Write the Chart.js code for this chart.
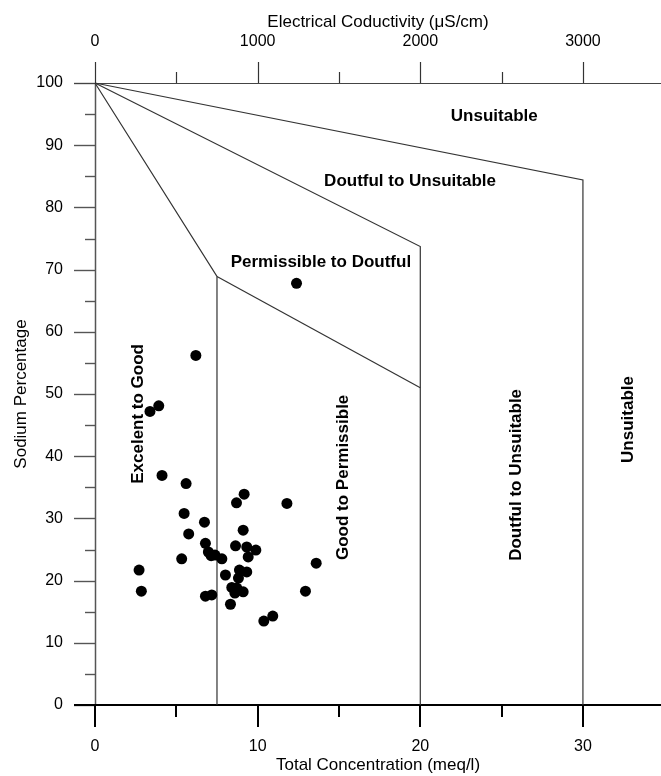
<!DOCTYPE html>
<html>
<head>
<meta charset="utf-8">
<script src="https://cdn.jsdelivr.net/npm/chart.js@4.4.1/dist/chart.umd.min.js"></script>
<style>
html,body{margin:0;padding:0;background:#fff;}
#wrap{width:661px;height:776px;}
</style>
</head>
<body>
<div id="wrap"><canvas id="c" width="661" height="776"></canvas></div>
<script>
// ---- Data ----
// Total concentration (meq/l) of each sample
const totalConc = [6.2, 3.92, 3.38, 4.12, 5.6, 9.17, 8.7, 11.8, 5.48, 6.73,
  5.76, 9.11, 6.79, 6.97, 7.38, 7.8, 7.14, 8.64, 9.33, 9.89,
  9.42, 5.33, 13.6, 2.71, 8.88, 9.33, 8.02, 8.82, 8.41, 8.72,
  2.85, 8.6, 9.11, 12.94, 6.79, 7.18, 8.33, 10.93, 10.38, 12.39];
// Sodium percentage of each sample
const sodiumPct = [56.2, 48.1, 47.2, 36.9, 35.6, 33.9, 32.5, 32.4, 30.8, 29.4,
  27.5, 28.1, 26.0, 24.6, 24.1, 23.5, 24.0, 25.6, 25.4, 24.9,
  23.8, 23.5, 22.8, 21.7, 21.7, 21.4, 20.9, 20.4, 18.9, 18.8,
  18.3, 18.0, 18.2, 18.3, 17.5, 17.7, 16.2, 14.3, 13.5, 67.8];

// Classification boundaries (Wilcox diagram), in data units
const boundExcGoodX = [0, 7.5, 7.5];
const boundExcGoodY = [100, 68.9, 0];
const boundGoodPermX = [7.5, 20];
const boundGoodPermY = [68.9, 51];
const boundPermDoubtX = [0, 20, 20];
const boundPermDoubtY = [100, 73.7, 0];
const boundDoubtUnsX = [0, 30, 30];
const boundDoubtUnsY = [100, 84.4, 0];

// Region labels
const regionNames = ['Unsuitable', 'Doutful to Unsuitable', 'Permissible to Doutful',
  'Excelent to Good', 'Good to Permissible', 'Doutful to Unsuitable', 'Unsuitable'];
const regionX = [24.55, 19.37, 13.89, 2.67, 15.24, 25.9, 32.8];
const regionY = [94.6, 84.2, 71.2, 46.8, 36.6, 37.0, 45.9];
const regionVertical = [false, false, false, true, true, true, true];

// Axis ticks (all tick marks) and the labelled (major) ones
const concTicks = [0, 5, 10, 15, 20, 25, 30];
const concLabels = [0, 10, 20, 30];
const ecTicks = [0, 500, 1000, 1500, 2000, 2500, 3000];
const ecLabels = [0, 1000, 2000, 3000];
const naTicks = [0, 5, 10, 15, 20, 25, 30, 35, 40, 45, 50, 55, 60, 65, 70, 75, 80, 85, 90, 95, 100];
const naLabels = [0, 10, 20, 30, 40, 50, 60, 70, 80, 90, 100];
const concMax = 34.8, ecPerMeq = 100;

// ---- Chart ----
const FONT = '"Liberation Sans", Arial, Helvetica, sans-serif';
const zip = (xs, ys) => xs.map((v, i) => ({x: v, y: ys[i]}));

function seg(ctx, x1, y1, x2, y2, color, w) {
  ctx.beginPath();
  ctx.strokeStyle = color;
  ctx.lineWidth = w;
  ctx.moveTo(x1, y1);
  ctx.lineTo(x2, y2);
  ctx.stroke();
}

const axisPlugin = {
  id: 'axisLines',
  beforeDatasetsDraw(chart) {
    const {ctx, chartArea: {left, top, right, bottom}, scales: {x, y, x2}} = chart;
    ctx.save();
    // y ticks
    y.ticks.forEach(t => {
      const py = Math.round(y.getPixelForValue(t.value)) + 0.5;
      const major = naLabels.includes(t.value);
      seg(ctx, left - (major ? 21 : 10), py, left, py, '#555', 1.4);
    });
    // top axis
    seg(ctx, left - 21, top + 0.5, right, top + 0.5, '#444', 1.2);
    x2.ticks.forEach(t => {
      const px = Math.round(x2.getPixelForValue(t.value)) + 0.5;
      const major = ecLabels.includes(t.value);
      seg(ctx, px, top - (major ? 21 : 11), px, top, '#333', 1.2);
    });
    // left axis
    seg(ctx, left + 0.5, top, left + 0.5, bottom, '#555', 1.5);
    // bottom axis
    seg(ctx, left - 21, bottom, right, bottom, '#000', 2);
    x.ticks.forEach(t => {
      const px = Math.round(x.getPixelForValue(t.value));
      const major = concLabels.includes(t.value);
      seg(ctx, px, bottom, px, bottom + (major ? 22 : 12), '#000', 2);
    });
    ctx.restore();
  }
};

const labelPlugin = {
  id: 'regionLabels',
  afterDatasetsDraw(chart) {
    const {ctx, scales: {x, y}} = chart;
    ctx.save();
    ctx.fillStyle = '#000';
    ctx.font = 'bold 17px ' + FONT;
    ctx.textAlign = 'center';
    ctx.textBaseline = 'middle';
    regionNames.forEach((name, i) => {
      const px = x.getPixelForValue(regionX[i]);
      const py = y.getPixelForValue(regionY[i]);
      ctx.save();
      ctx.translate(px, py);
      if (regionVertical[i]) ctx.rotate(-Math.PI / 2);
      ctx.fillText(name, 0, 0);
      ctx.restore();
    });
    ctx.restore();
  }
};

const boundaryStyle = {type: 'line', borderColor: '#333', borderWidth: 1.2, pointRadius: 0,
  pointHoverRadius: 0, fill: false, tension: 0, order: 1, clip: false, showLine: true};

function fixTicks(values) {
  return s => { s.ticks = values.map(v => ({value: v})); };
}
function fixSize(prop, size) {
  return s => {
    s[prop] = size;
    s.paddingLeft = 0; s.paddingRight = 0; s.paddingTop = 0; s.paddingBottom = 0;
  };
}
function labelIf(list) {
  return v => (list.includes(v) ? String(v) : '');
}

new Chart(document.getElementById('c'), {
  type: 'scatter',
  data: {
    datasets: [
      {label: 'Samples', data: zip(totalConc, sodiumPct), backgroundColor: '#000', borderColor: '#000',
        borderWidth: 0, pointRadius: 5.5, pointHoverRadius: 5.5, order: 0},
      Object.assign({label: 'b1', data: zip(boundExcGoodX, boundExcGoodY)}, boundaryStyle),
      Object.assign({label: 'b2', data: zip(boundGoodPermX, boundGoodPermY)}, boundaryStyle),
      Object.assign({label: 'b3', data: zip(boundPermDoubtX, boundPermDoubtY)}, boundaryStyle),
      Object.assign({label: 'b4', data: zip(boundDoubtUnsX, boundDoubtUnsY)}, boundaryStyle)
    ]
  },
  options: {
    responsive: false,
    animation: false,
    devicePixelRatio: 1,
    layout: {padding: 0, autoPadding: false},
    plugins: {legend: {display: false}, tooltip: {enabled: false}},
    scales: {
      x: {
        type: 'linear', position: 'bottom', min: 0, max: concMax,
        grid: {display: false, drawTicks: false}, border: {display: false},
        afterBuildTicks: fixTicks(concTicks),
        ticks: {autoSkip: false, maxRotation: 0, padding: 32,
          color: '#000', font: {family: FONT, size: 16}, callback: labelIf(concLabels)},
        title: {display: true, text: 'Total Concentration (meq/l)', color: '#000',
          font: {family: FONT, size: 17}, padding: {top: 0, bottom: 0}},
        afterFit: fixSize('height', 71)
      },
      x2: {
        type: 'linear', position: 'top', min: 0, max: concMax * ecPerMeq,
        grid: {display: false, drawTicks: false}, border: {display: false},
        afterBuildTicks: fixTicks(ecTicks),
        ticks: {autoSkip: false, maxRotation: 0, padding: 31.7,
          color: '#000', font: {family: FONT, size: 16}, callback: labelIf(ecLabels)},
        title: {display: true, text: 'Electrical Coductivity (μS/cm)', color: '#000',
          font: {family: FONT, size: 17}, padding: {top: 12.5, bottom: 0}},
        afterFit: fixSize('height', 83)
      },
      y: {
        type: 'linear', position: 'left', min: 0, max: 100,
        grid: {display: false, drawTicks: false}, border: {display: false},
        afterBuildTicks: fixTicks(naTicks),
        ticks: {autoSkip: false, padding: 32,
          color: '#000', font: {family: FONT, size: 16}, callback: labelIf(naLabels)},
        title: {display: true, text: 'Sodium Percentage', color: '#000',
          font: {family: FONT, size: 17}, padding: {top: 11.5, bottom: 0}},
        afterFit: fixSize('width', 95)
      }
    }
  },
  plugins: [axisPlugin, labelPlugin]
});
</script>
</body>
</html>
